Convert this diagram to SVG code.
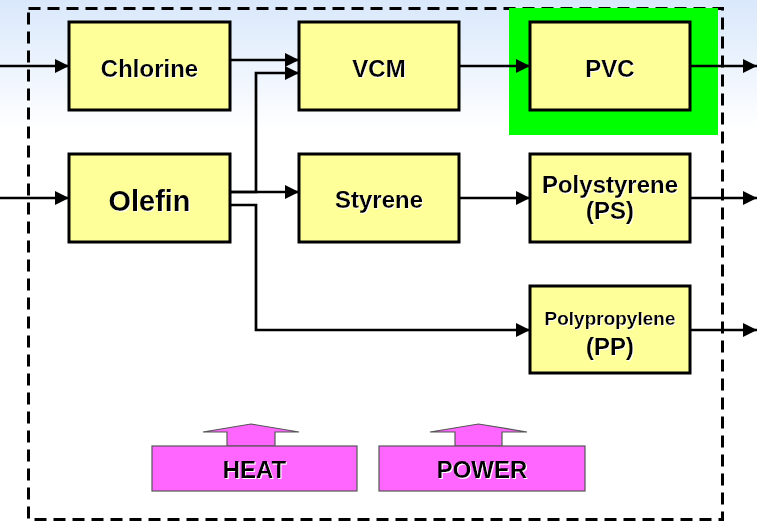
<svg xmlns="http://www.w3.org/2000/svg" width="757" height="522" viewBox="0 0 757 522">
<defs>
<linearGradient id="bg" x1="0" y1="0" x2="0" y2="1">
<stop offset="0" stop-color="#d9e8fb"/>
<stop offset="1" stop-color="#ffffff"/>
</linearGradient>
<marker id="ah" markerWidth="15" markerHeight="15" refX="14" refY="7" orient="auto" markerUnits="userSpaceOnUse">
<path d="M0,0 L14,7 L0,14 Z" fill="#000"/>
</marker>
<filter id="sh" x="-10%" y="-10%" width="120%" height="130%">
<feDropShadow dx="1" dy="1" stdDeviation="0.3" flood-color="#ffffff" flood-opacity="1"/>
</filter>
<style>
.box{fill:#ffff99;stroke:#000;stroke-width:3}
.util{fill:#ff66ff;stroke:#555;stroke-width:1.2}
.t{font-family:"Liberation Sans",Arial,sans-serif;font-weight:bold;fill:#000;text-anchor:middle;filter:url(#sh)}
.c{fill:none;stroke:#000;stroke-width:2.7;marker-end:url(#ah)}
</style>
</defs>
<rect x="0" y="0" width="757" height="522" fill="#ffffff"/>
<rect x="0" y="0" width="757" height="130" fill="url(#bg)"/>
<rect id="frame" x="28.5" y="8.5" width="694" height="511" fill="none" stroke="#000" stroke-width="3" stroke-dasharray="12,7"/>
<rect id="pvc-highlight" x="509" y="8" width="209" height="127" fill="#00ff00"/>
<g id="connectors">
<path class="c" d="M0,66 H69"/>
<path class="c" d="M0,198 H69"/>
<path class="c" d="M230,60 H299"/>
<path class="c" d="M230,192 H256 V73 H299"/>
<path class="c" d="M230,192 H299"/>
<path class="c" d="M230,205 H256 V330 H530"/>
<path class="c" d="M459,66 H530"/>
<path class="c" d="M690,66 H757"/>
<path class="c" d="M459,198 H530"/>
<path class="c" d="M690,198 H757"/>
<path class="c" d="M690,330 H757"/>
</g>
<g id="chlorine"><rect class="box" x="69" y="22" width="161" height="88"/><text class="t" x="149.5" y="76.5" font-size="24">Chlorine</text></g>
<g id="olefin"><rect class="box" x="69" y="154" width="161" height="88"/><text class="t" x="149.5" y="211" font-size="29">Olefin</text></g>
<g id="vcm"><rect class="box" x="299" y="22" width="160" height="88"/><text class="t" x="379" y="76.5" font-size="24">VCM</text></g>
<g id="styrene"><rect class="box" x="299" y="154" width="160" height="88"/><text class="t" x="379" y="208" font-size="24">Styrene</text></g>
<g id="pvc"><rect class="box" x="530" y="22" width="160" height="88"/><text class="t" x="610" y="76.5" font-size="24">PVC</text></g>
<g id="ps"><rect class="box" x="530" y="154" width="160" height="88"/><text class="t" x="610" y="192.5" font-size="24">Polystyrene</text><text class="t" x="610" y="218.5" font-size="24">(PS)</text></g>
<g id="pp"><rect class="box" x="530" y="286" width="160" height="87"/><text class="t" x="610" y="325" font-size="19">Polypropylene</text><text class="t" x="610" y="355" font-size="24">(PP)</text></g>
<g id="heat"><path class="util" d="M227,446 V432 H203 L251,424 L299,432 H275 V446 Z"/><rect class="util" x="152" y="446" width="205" height="45"/><text class="t" x="254.5" y="477.5" font-size="24">HEAT</text></g>
<g id="power"><path class="util" d="M455,446 V432 H430 L478.5,424 L527,432 H502 V446 Z"/><rect class="util" x="379" y="446" width="206" height="45"/><text class="t" x="482" y="477.5" font-size="24">POWER</text></g>
</svg>
